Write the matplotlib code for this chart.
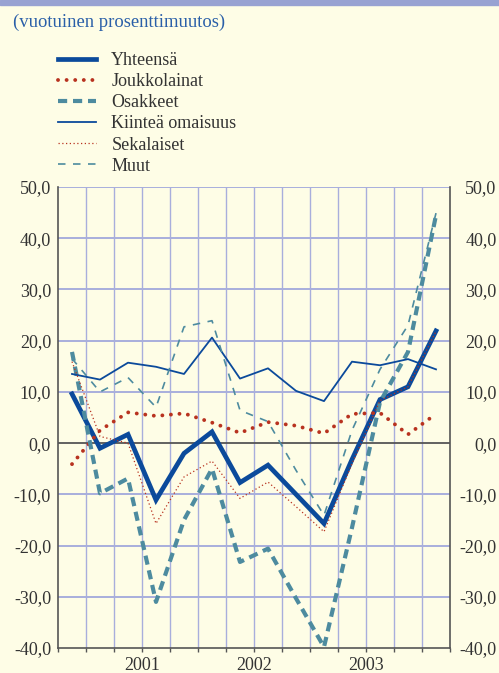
import numpy as np
import matplotlib
matplotlib.use('Agg')
import matplotlib.pyplot as plt

plt.rcParams['font.family'] = ['Liberation Serif', 'DejaVu Serif']

# quarterly data, 2000 Q4 ... 2004 Q1
quarters = ['2000Q4', '2001Q1', '2001Q2', '2001Q3', '2001Q4',
            '2002Q1', '2002Q2', '2002Q3', '2002Q4',
            '2003Q1', '2003Q2', '2003Q3', '2003Q4', '2004Q1']
yhteensa = [9.6, -1.0, 1.7, -11.1, -2.0, 2.2, -7.7, -4.3, -10.0, -15.7, -3.2, 8.5, 11.0, 21.9]
joukkolainat = [-4.1, 2.5, 6.0, 5.3, 5.8, 4.0, 2.0, 4.1, 3.4, 1.9, 5.7, 5.9, 1.7, 5.7]
osakkeet = [17.8, -9.8, -6.9, -31.0, -15.0, -5.0, -23.2, -20.6, -30.3, -39.8, -16.5, 8.0, 17.8, 44.5]
kiintea = [13.5, 12.4, 15.7, 14.9, 13.5, 20.6, 12.6, 14.6, 10.2, 8.2, 15.9, 15.2, 16.4, 14.4]
sekalaiset = [15.9, 1.3, 0.0, -15.7, -6.6, -3.5, -10.8, -7.6, -12.4, -17.3, -4.0, 8.3, 11.0, 21.8]
muut = [16.5, 10.0, 12.8, 7.0, 22.7, 23.9, 6.4, 4.2, -5.3, -14.1, 2.5, 14.4, 23.0, 44.9]

years = ['2001', '2002', '2003']
year_pos = [2.5, 6.5, 10.5]
yticks = np.arange(-40, 51, 10)

bg = '#fefde6'
grid_c = '#a8aedc'
dark = '#333333'
blue = '#0b4a9b'
red = '#b8321f'
teal = '#4d8b9f'
fs = 13

fig = plt.figure(figsize=(4.99, 6.73), dpi=100, facecolor=bg)
ax = fig.add_axes((58 / 499, 25 / 673, 392 / 499, 461 / 673))
ax.set_facecolor(bg)

x = np.arange(len(quarters))
l1, = ax.plot(x, yhteensa, color=blue, lw=3.4, solid_joinstyle='miter', zorder=5)
l2, = ax.plot(x, joukkolainat, color=red, lw=2.8, ls=(0, (0.01, 2.2)),
              dash_capstyle='round', zorder=6)
l3, = ax.plot(x, osakkeet, color=teal, lw=3.0, ls=(0, (2.2, 1.4)), zorder=6)
l4, = ax.plot(x, kiintea, color=blue, lw=1.3, zorder=6)
l5, = ax.plot(x, sekalaiset, color=red, lw=0.9, ls=(0, (1, 2.0)), zorder=7)
l6, = ax.plot(x, muut, color=teal, lw=1.2, ls=(0, (4.5, 4.5)), zorder=7)

ax.set_xlim(-0.5, len(quarters) - 0.5)
ax.set_ylim(-40, 50)

# grid
for b in np.arange(-0.5, len(quarters), 1.0)[1:-1]:
    ax.axvline(b, color=grid_c, lw=1.0, zorder=1)
for v in yticks:
    if v == 0:
        ax.axhline(v, color='#555555', lw=1.3, zorder=2)
    elif v > -40:
        ax.axhline(v, color=grid_c, lw=1.4, zorder=1)

ax.spines['top'].set_visible(False)
for s in ['left', 'right', 'bottom']:
    ax.spines[s].set_color('#555555')
    ax.spines[s].set_linewidth(1.2)

ax.set_xticks(np.arange(-0.5, len(quarters), 1.0))
ax.set_xticklabels([])
ax.tick_params(axis='x', which='major', direction='out', length=3, width=1,
               color='#555555')
for yr, p in zip(years, year_pos):
    ax.text(p, -17 / 461, yr, transform=ax.get_xaxis_transform(), ha='center',
            va='center', fontsize=fs, color=dark)

ylabels = [f'{v:.1f}'.replace('.', ',') for v in yticks]
ax.set_yticks(yticks)
ax.set_yticklabels(ylabels)
ax.tick_params(axis='y', length=0, pad=5, labelsize=fs, labelcolor=dark)

ax2 = ax.twinx()
ax2.set_ylim(-40, 50)
ax2.set_yticks(yticks)
ax2.set_yticklabels(ylabels, ha='right')
ax2.tick_params(axis='y', length=0, pad=33.5, labelsize=fs, labelcolor=dark)
for s in ax2.spines.values():
    s.set_visible(False)

# top band and title
fig.patches.append(plt.Rectangle((0, 1 - 5 / 673), 1, 5 / 673, transform=fig.transFigure,
                                 color='#98a2d2', zorder=0))
fig.text(13 / 499, 1 - 22 / 673, '(vuotuinen prosenttimuutos)', color='#2a5fa8',
         fontsize=13.4, va='center', ha='left')

leg = fig.legend([l1, l2, l3, l4, l5, l6],
                 ['Yhteensä', 'Joukkolainat', 'Osakkeet', 'Kiinteä omaisuus', 'Sekalaiset', 'Muut'],
                 loc='upper left', bbox_to_anchor=(58 / 499, 1 - 52 / 673),
                 frameon=False, fontsize=fs, handlelength=2.1, handletextpad=0.85,
                 labelspacing=0.23, borderpad=0, borderaxespad=0)
for t in leg.get_texts():
    t.set_color(dark)

fig.savefig('out.png', dpi=100, facecolor=bg)
